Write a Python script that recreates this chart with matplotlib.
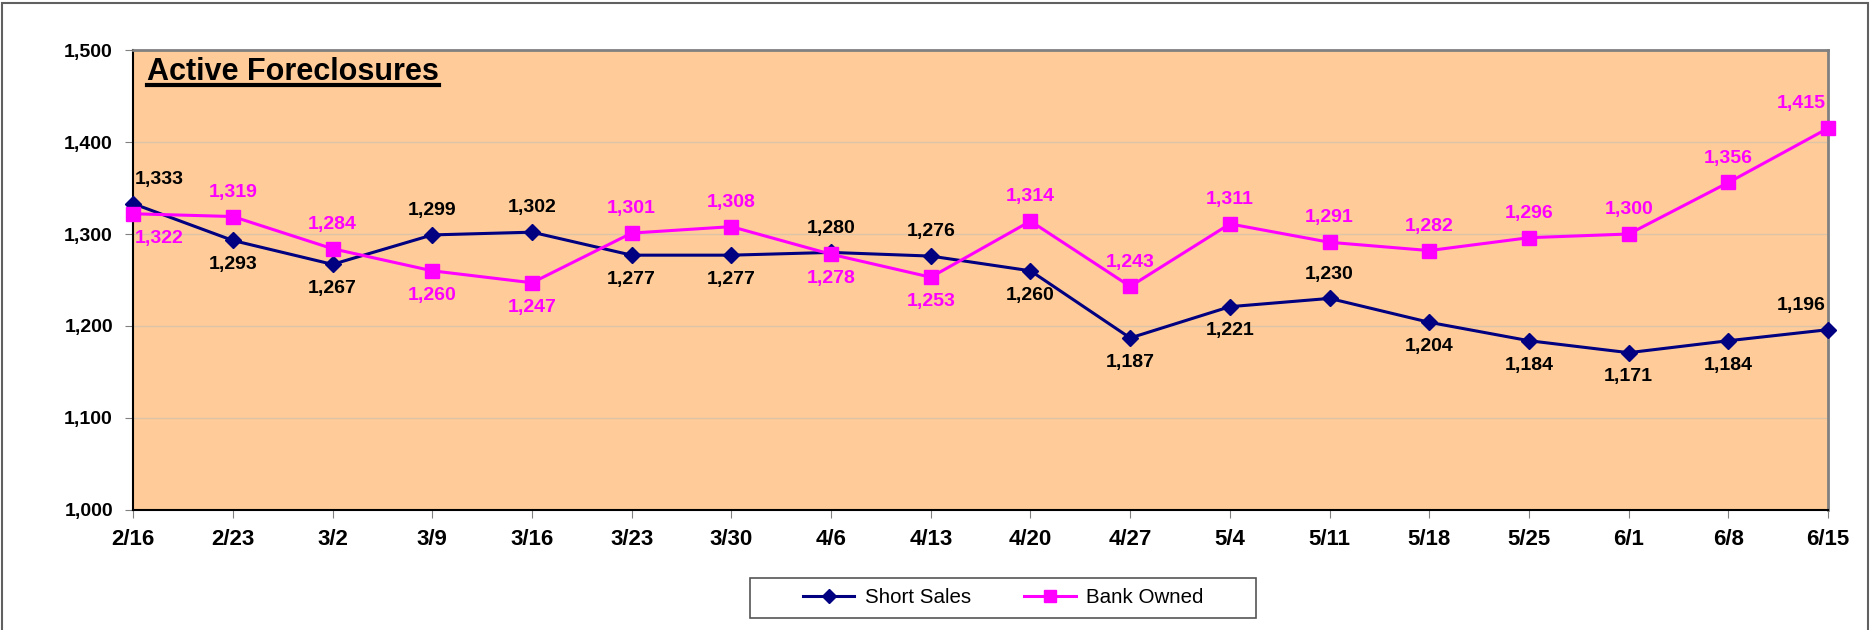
import matplotlib
matplotlib.use("Agg")
import matplotlib.pyplot as plt
from matplotlib.patches import Rectangle
from matplotlib.lines import Line2D

plt.rcParams["font.family"] = ["Liberation Sans", "DejaVu Sans"]

weeks = ["2/16", "2/23", "3/2", "3/9", "3/16", "3/23", "3/30", "4/6", "4/13",
         "4/20", "4/27", "5/4", "5/11", "5/18", "5/25", "6/1", "6/8", "6/15"]
short_sales = [1333, 1293, 1267, 1299, 1302, 1277, 1277, 1280, 1276,
               1260, 1187, 1221, 1230, 1204, 1184, 1171, 1184, 1196]
bank_owned = [1322, 1319, 1284, 1260, 1247, 1301, 1308, 1278, 1253,
              1314, 1243, 1311, 1291, 1282, 1296, 1300, 1356, 1415]
# +1 label above the point, -1 below
short_pos = [1, -1, -1, 1, 1, -1, -1, 1, 1, -1, -1, -1, 1, -1, -1, -1, -1, 1]
bank_pos = [-1, 1, 1, -1, -1, 1, 1, -1, -1, 1, 1, 1, 1, 1, 1, 1, 1, 1]

NAVY = "#000080"
MAGENTA = "#FF00FF"

fig = plt.figure(figsize=(18.75, 6.3), dpi=100)
ax = fig.add_axes([0.071, 0.1905, 0.904, 0.7301])
ax.set_facecolor("#FFCC99")

x = list(range(len(weeks)))
ax.plot(x, short_sales, color=NAVY, lw=2.2, marker="D", ms=8.5,
        label="Short Sales", clip_on=False, zorder=4)
ax.plot(x, bank_owned, color=MAGENTA, lw=2.2, marker="s", ms=10.5,
        label="Bank Owned", clip_on=False, zorder=5)


def label_series(vals, pos, color):
    n = len(vals)
    for i, (v, p) in enumerate(zip(vals, pos)):
        ha, dx = "center", 0
        if i == 0:
            ha, dx = "left", 1
        elif i == n - 1:
            ha, dx = "right", -1.5
        ax.annotate(f"{v:,}", (i, v), xytext=(dx, 17.5 * p),
                    textcoords="offset points", ha=ha, va="center",
                    fontsize=14, fontweight="bold", color=color, zorder=6,
                    annotation_clip=False)


label_series(short_sales, short_pos, "black")
label_series(bank_owned, bank_pos, MAGENTA)

ax.set_xlim(0, len(weeks) - 1)
ax.set_ylim(1000, 1500)
ax.set_yticks(range(1000, 1501, 100))
ax.set_yticklabels([f"{v:,}" for v in range(1000, 1501, 100)])
ax.set_xticks(x)
ax.set_xticklabels(weeks)
ax.yaxis.grid(True, color="#DCC4A8", lw=1)
ax.set_axisbelow(True)
ax.tick_params(axis="both", direction="out", length=5.5, color="#808080")
ax.tick_params(axis="y", pad=9, labelsize=14)
ax.tick_params(axis="x", pad=8, labelsize=16)
for lab in ax.get_xticklabels() + ax.get_yticklabels():
    lab.set_fontweight("bold")

for side in ["top", "right"]:
    ax.spines[side].set_color("#808080")
    ax.spines[side].set_linewidth(2)
for side in ["left", "bottom"]:
    ax.spines[side].set_color("black")
    ax.spines[side].set_linewidth(1.5)

title = ax.text(0.008, 0.935, "Active Foreclosures", transform=ax.transAxes,
                fontsize=22, fontweight="bold", ha="left", va="baseline")

# outer chart border
fig.add_artist(Rectangle((2 / 1875, -0.05), 1866 / 1875, 1.0 - 3 / 630 + 0.05,
                         transform=fig.transFigure, fill=False,
                         edgecolor="#606060", lw=1.5))

# legend
fig.add_artist(Rectangle((750 / 1875, 1 - 618 / 630), 506 / 1875, 40 / 630,
                         transform=fig.transFigure, facecolor="white",
                         edgecolor="#555555", lw=1.2))
handles, labels = ax.get_legend_handles_labels()
leg = fig.legend(handles, labels, loc="center", bbox_to_anchor=(0.535, 0.051),
                 ncol=2, frameon=False, fontsize=14.8, handlelength=2.5,
                 handletextpad=0.5, columnspacing=2.6, markerscale=0.8)

# underline the title, a few pixels under its baseline
fig.canvas.draw()
bb = title.get_window_extent(fig.canvas.get_renderer())
base_y = ax.transAxes.transform((0, 0.935))[1]
inv = fig.transFigure.inverted()
(x0, y0), (x1, _) = inv.transform([(bb.x0, base_y - 5), (bb.x1, base_y - 5)])
fig.add_artist(Line2D([x0, x1], [y0, y0],
                      transform=fig.transFigure, color="black", lw=3))

fig.savefig("out.png", dpi=100)
